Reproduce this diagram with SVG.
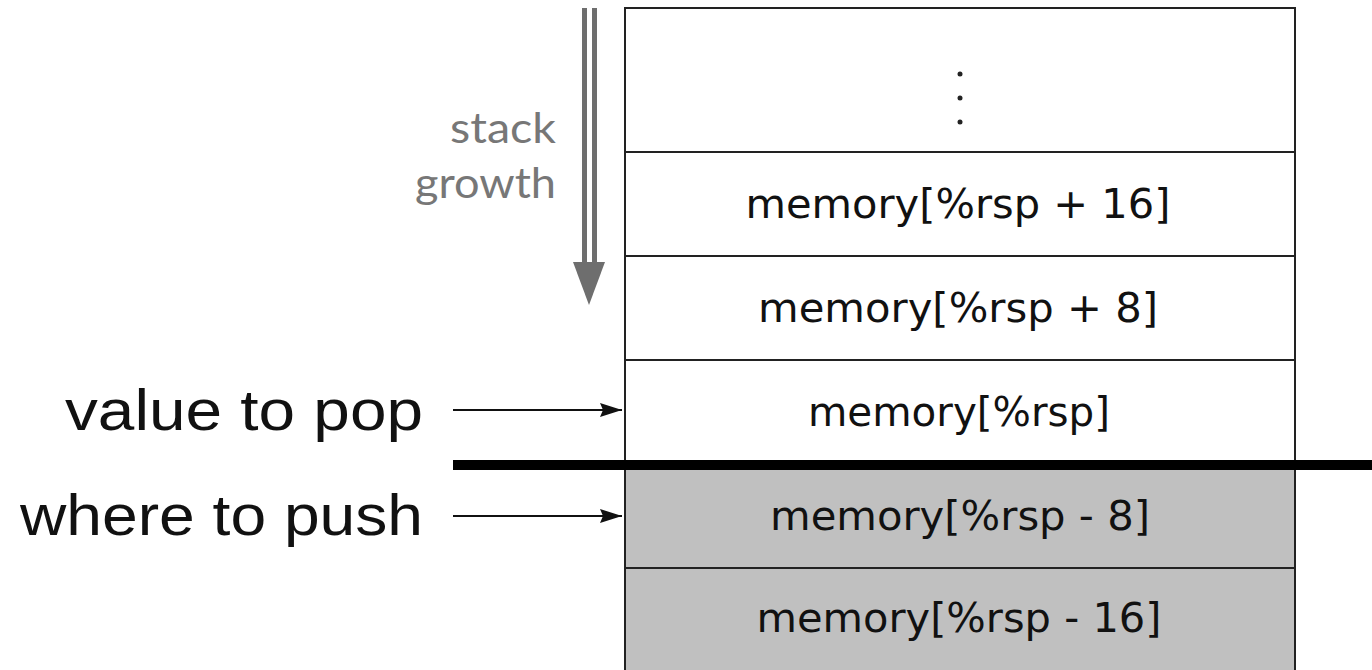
<svg xmlns="http://www.w3.org/2000/svg" width="1372" height="670" viewBox="0 0 1372 670">
<defs>
<style>
.cell{stroke:#222;stroke-width:2}
.w{fill:#fff}
.g{fill:#c0c0c0}
.mem{font-family:"DejaVu Sans","Liberation Sans",sans-serif;font-size:40px;fill:#111;text-anchor:middle}
.lbl{font-family:"Liberation Sans",Arial,sans-serif;font-size:58px;fill:#111;text-anchor:end}
.grow{font-family:Lato,"Liberation Sans",sans-serif;font-size:42px;fill:#777;text-anchor:end}
.conn{stroke:#111;stroke-width:2;fill:none}
</style>
<marker id="ah" viewBox="0 0 22 16" refX="22" refY="8" markerWidth="22" markerHeight="16" markerUnits="userSpaceOnUse" orient="auto">
<path d="M0,1 L22,8 L0,15 L3,8 z" fill="#111"/>
</marker>
</defs>
<rect width="1372" height="670" fill="#fff"/>
<g id="cell-dots"><rect class="cell w" x="625" y="8" width="670" height="144"/>
<circle cx="960" cy="74" r="2.5" fill="#222"/><circle cx="960" cy="98" r="2.5" fill="#222"/><circle cx="960" cy="122" r="2.5" fill="#222"/></g>
<g id="cell-p16"><rect class="cell w" x="625" y="152" width="670" height="104"/><text class="mem" x="958" y="218" textLength="425" lengthAdjust="spacingAndGlyphs">memory[%rsp + 16]</text></g>
<g id="cell-p8"><rect class="cell w" x="625" y="256" width="670" height="104"/><text class="mem" x="958" y="322" textLength="400" lengthAdjust="spacingAndGlyphs">memory[%rsp + 8]</text></g>
<g id="cell-0"><rect class="cell w" x="625" y="360" width="670" height="104"/><text class="mem" x="959" y="426" textLength="302" lengthAdjust="spacingAndGlyphs">memory[%rsp]</text></g>
<g id="cell-m8"><rect class="cell g" x="625" y="466" width="670" height="102"/><text class="mem" x="960" y="530" textLength="380" lengthAdjust="spacingAndGlyphs">memory[%rsp - 8]</text></g>
<g id="cell-m16"><rect class="cell g" x="625" y="568" width="670" height="104"/><text class="mem" x="959" y="632" textLength="405" lengthAdjust="spacingAndGlyphs">memory[%rsp - 16]</text></g>
<g id="divider"><rect x="453" y="460" width="919" height="10" fill="#000"/></g>
<g id="growth">
<text class="grow" x="556" y="143" textLength="106" lengthAdjust="spacingAndGlyphs">stack</text>
<text class="grow" x="556" y="198" textLength="141" lengthAdjust="spacingAndGlyphs">growth</text>
<rect x="582" y="8" width="5" height="258" fill="#6e6e6e"/>
<rect x="592" y="8" width="5" height="258" fill="#6e6e6e"/>
<path d="M573,262 L605,262 L589,305 z" fill="#6e6e6e"/>
</g>
<g id="label-pop"><text class="lbl" x="423" y="430" textLength="358" lengthAdjust="spacingAndGlyphs">value to pop</text></g>
<g id="label-push"><text class="lbl" x="423" y="535" textLength="403" lengthAdjust="spacingAndGlyphs">where to push</text></g>
<g id="connectors">
<line class="conn" x1="453" y1="410" x2="622" y2="410" marker-end="url(#ah)"/>
<line class="conn" x1="453" y1="516" x2="622" y2="516" marker-end="url(#ah)"/>
</g>
</svg>
